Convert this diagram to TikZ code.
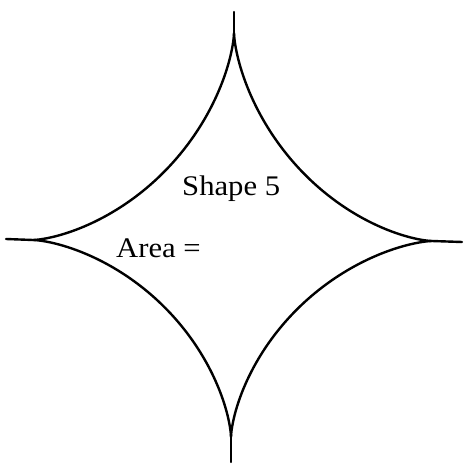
\documentclass[tikz,border=0pt]{standalone}
\usepackage{fontspec}
\setmainfont{Liberation Serif}
\begin{document}
\begin{tikzpicture}[x=1bp,y=-1bp,
  curve/.style={line width=2.4bp, line join=round, line cap=round},
  lbl/.style={inner sep=0pt, anchor=base west, font=\fontsize{28.5}{30}\selectfont, xscale=1.08},
  declare function={shr(\t)=1-0.17*sin(\t)^2*cos(\t)^2;}]
\useasboundingbox (0,0) rectangle (464,464);
% cusps
\coordinate (T) at (234,33);
\coordinate (R) at (432,241);
\coordinate (B) at (231,437);
\coordinate (L) at (33,240);
% tail ends
\coordinate (Tt) at (234,12);
\coordinate (Rt) at (462,242);
\coordinate (Bt) at (231,462);
\coordinate (Lt) at (6,239);
% four concave arcs
\draw[curve] plot[domain=0:90, samples=120, variable=\t]
  ({234 + 198*cos(\t)^3*shr(\t)}, {241 - 208*sin(\t)^3*shr(\t)});
\draw[curve] plot[domain=0:90, samples=120, variable=\t]
  ({234 - 201*cos(\t)^3*shr(\t)}, {240 - 207*sin(\t)^3*shr(\t)});
\draw[curve] plot[domain=0:90, samples=120, variable=\t]
  ({231 - 198*cos(\t)^3*shr(\t)}, {240 + 197*sin(\t)^3*shr(\t)});
\draw[curve] plot[domain=0:90, samples=120, variable=\t]
  ({231 + 201*cos(\t)^3*shr(\t)}, {241 + 196*sin(\t)^3*shr(\t)});
% tails
\draw[curve] (T) -- (Tt);
\draw[curve] (R) -- (Rt);
\draw[curve] (B) -- (Bt);
\draw[curve] (L) -- (Lt);
% labels
\node[lbl] (shape) at (182,196) {Shape 5};
\node[lbl] (area) at (116,257) {Area =};
\end{tikzpicture}
\end{document}
